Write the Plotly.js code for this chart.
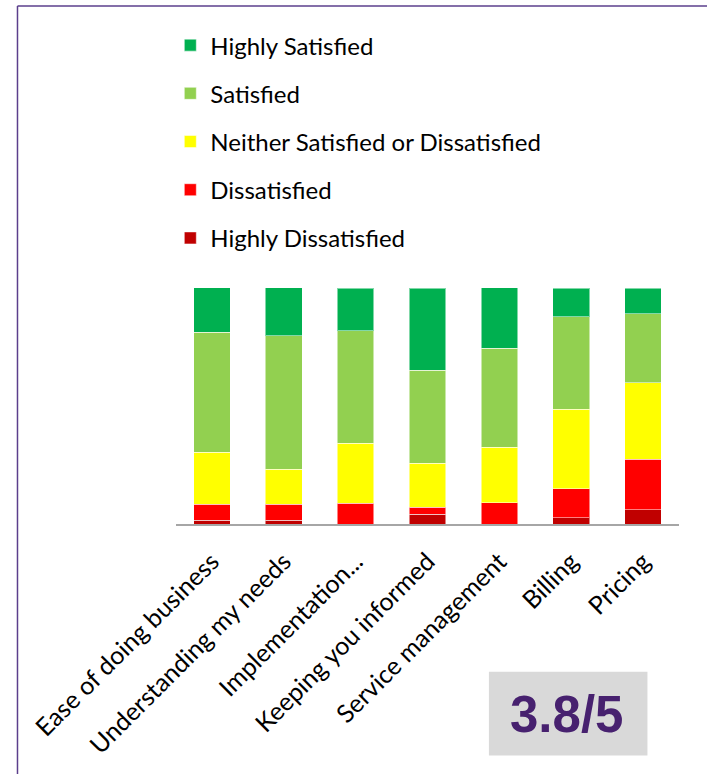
<!DOCTYPE html>
<html>
<head>
<meta charset="utf-8">
<script src="https://cdn.plot.ly/plotly-3.0.1.min.js"></script>
<style>html,body{margin:0;padding:0;background:#fff;}#chart{width:707px;height:774px;}</style>
</head>
<body>
<div id="chart"></div>
<script>
// ---- data ----
const categories = ["Ease of doing business", "Understanding my needs", "Implementation...", "Keeping you informed", "Service management", "Billing", "Pricing"];
const highlyDissatisfied = [1.6, 1.6, 0, 4.2, 0, 2.7, 6.1];
const dissatisfied       = [6.8, 6.8, 8.8, 2.8, 9.1, 12.3, 21.4];
const neither            = [22.0, 14.9, 25.4, 18.8, 23.5, 33.6, 32.4];
const satisfied          = [50.8, 56.4, 47.7, 39.3, 41.8, 39.3, 29.2];
const highlySatisfied    = [18.9, 20.4, 18.1, 34.8, 25.7, 12.1, 10.9];
const seriesNames = ["Highly Dissatisfied", "Dissatisfied", "Neither Satisfied or Dissatisfied", "Satisfied", "Highly Satisfied"];
const scoreText = "3.8/5";

// ---- layout geometry (pixels) ----
const W = 707, H = 774;
const plotL = 175.7, plotR = 679.3, plotT = 288.3, plotB = 523.7;
const pw = plotR - plotL, ph = plotB - plotT;
const px = x => (x - plotL) / pw;
const py = y => (plotB - y) / ph;

const colors = ["#C00000", "#FF0000", "#FFFF00", "#92D050", "#00B050"];
const seriesValues = [highlyDissatisfied, dissatisfied, neither, satisfied, highlySatisfied];

const traces = seriesValues.map((vals, i) => ({
  type: "bar",
  name: seriesNames[i],
  x: categories,
  y: vals,
  legendgroup: "g" + i,
  legendrank: 1000 - i,
  marker: { color: colors[i], line: { color: "rgba(255,255,255,0.5)", width: 1 } },
  hoverinfo: "x+y+name"
}));

const layout = {
  width: W, height: H,
  margin: { l: plotL, r: W - plotR, t: plotT, b: H - plotB, pad: 0 },
  paper_bgcolor: "#ffffff",
  plot_bgcolor: "#ffffff",
  barmode: "stack",
  bargap: 0.49,
  font: { family: "Lato, 'Open Sans', sans-serif", color: "#000000" },
  showlegend: true,
  legend: {
    x: px(170), xanchor: "left",
    y: py(24), yanchor: "top",
    orientation: "v",
    traceorder: "grouped",
    tracegroupgap: 14,
    font: { family: "Lato, sans-serif", size: 24, color: "#000000" },
    bgcolor: "rgba(0,0,0,0)",
    borderwidth: 0
  },
  xaxis: {
    showline: true, linecolor: "#a6a6a6", linewidth: 2,
    showgrid: false, zeroline: false, ticks: "",
    tickangle: -45,
    ticklabelstandoff: 11,
    tickfont: { family: "Lato, sans-serif", size: 25, color: "#000000" },
    fixedrange: true
  },
  yaxis: {
    range: [0, 100], visible: false, showgrid: false, zeroline: false, fixedrange: true
  },
  shapes: [
    { type: "line", xref: "paper", yref: "paper", x0: px(17), x1: px(W + 5), y0: py(7), y1: py(7), line: { color: "#5b3f8c", width: 1.5 } },
    { type: "line", xref: "paper", yref: "paper", x0: px(17), x1: px(17), y0: py(7), y1: py(H + 5), line: { color: "#5b3f8c", width: 1.5 } },
    { type: "rect", xref: "paper", yref: "paper", x0: px(489), x1: px(647.7), y0: py(671), y1: py(754.7), fillcolor: "#d9d9d9", line: { width: 0 }, layer: "below" }
  ],
  annotations: [
    { xref: "paper", yref: "paper", x: px(567), y: py(714), xanchor: "center", yanchor: "middle",
      text: "<b>" + scoreText + "</b>", showarrow: false,
      font: { family: "'Liberation Sans', Arial, sans-serif", size: 51, color: "#47216f" } }
  ]
};

Plotly.newPlot("chart", traces, layout, { displayModeBar: false, staticPlot: true });
</script>
</body>
</html>
